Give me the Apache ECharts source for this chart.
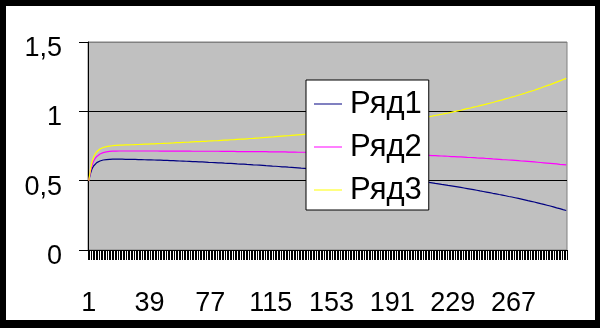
<!DOCTYPE html>
<html><head><meta charset="utf-8">
<script src="https://cdn.jsdelivr.net/npm/echarts@6/dist/echarts.min.js"></script>
<style>
html,body{margin:0;padding:0;background:#000;}
#wrap{position:relative;width:600px;height:328px;background:#000;overflow:hidden;}
#paper{position:absolute;left:6px;top:6px;width:589px;height:314px;background:#fff;}
#c{position:absolute;left:0;top:0;width:600px;height:328px;}
</style>
</head><body>
<div id="wrap"><div id="paper"></div><div id="c"></div></div>
<script>
const categories = [];
for (let i = 1; i <= 300; i++) categories.push(String(i));
const seriesNames = ['Ряд1', 'Ряд2', 'Ряд3'];
const seriesColors = ['#000080', '#FF00FF', '#FFFF00'];

const ryad1 = [
0.500,0.550,0.585,0.606,0.620,0.630,0.637,0.642,0.646,0.649,0.651,0.652,0.653,0.654,0.655,
0.655,0.656,0.656,0.656,0.655,
0.655,0.655,0.655,0.654,0.654,0.654,0.654,0.653,0.653,0.653,
0.653,0.652,0.652,0.652,0.651,0.651,0.651,0.650,0.650,0.650,
0.650,0.649,0.649,0.648,0.648,0.648,0.647,0.647,0.646,0.646,
0.645,0.645,0.644,0.644,0.643,0.643,0.642,0.642,0.641,0.641,
0.640,0.640,0.639,0.639,0.638,0.638,0.637,0.637,0.636,0.636,
0.635,0.635,0.634,0.634,0.633,0.632,0.632,0.631,0.631,0.630,
0.629,0.629,0.628,0.628,0.627,0.626,0.626,0.625,0.625,0.624,
0.623,0.623,0.622,0.621,0.621,0.620,0.619,0.619,0.618,0.617,
0.616,0.616,0.615,0.614,0.614,0.613,0.612,0.612,0.611,0.610,
0.609,0.608,0.608,0.607,0.606,0.605,0.604,0.604,0.603,0.602,
0.601,0.600,0.600,0.599,0.598,0.597,0.596,0.596,0.595,0.594,
0.593,0.592,0.591,0.590,0.590,0.589,0.588,0.587,0.586,0.585,
0.584,0.583,0.582,0.581,0.580,0.579,0.578,0.577,0.576,0.575,
0.574,0.573,0.572,0.571,0.569,0.568,0.567,0.566,0.565,0.564,
0.563,0.562,0.560,0.559,0.558,0.557,0.556,0.554,0.553,0.552,
0.551,0.549,0.548,0.547,0.545,0.544,0.543,0.542,0.540,0.539,
0.538,0.536,0.535,0.533,0.532,0.531,0.529,0.528,0.526,0.525,
0.523,0.522,0.520,0.519,0.517,0.516,0.514,0.513,0.511,0.510,
0.508,0.507,0.505,0.504,0.502,0.500,0.499,0.497,0.496,0.494,
0.492,0.491,0.489,0.487,0.485,0.484,0.482,0.480,0.479,0.477,
0.475,0.473,0.472,0.470,0.468,0.466,0.464,0.463,0.461,0.459,
0.457,0.455,0.453,0.451,0.449,0.447,0.445,0.443,0.441,0.439,
0.437,0.435,0.433,0.431,0.429,0.426,0.424,0.422,0.420,0.418,
0.416,0.414,0.411,0.409,0.407,0.405,0.403,0.400,0.398,0.396,
0.394,0.391,0.389,0.386,0.384,0.382,0.379,0.377,0.374,0.372,
0.369,0.367,0.364,0.362,0.359,0.356,0.354,0.351,0.349,0.346,
0.343,0.340,0.337,0.334,0.331,0.329,0.326,0.323,0.320,0.317,
0.314,0.311,0.307,0.304,0.301,0.298,0.295,0.291,0.288,0.285
];

const ryad2 = [
0.500,0.565,0.610,0.640,0.660,0.675,0.685,0.692,0.698,0.702,0.705,0.708,0.710,0.711,0.712,
0.713,0.713,0.713,0.714,0.714,
0.714,0.714,0.714,0.714,0.714,0.714,0.714,0.714,0.714,0.714,
0.714,0.714,0.714,0.714,0.714,0.714,0.714,0.714,0.714,0.714,
0.714,0.714,0.714,0.714,0.714,0.713,0.713,0.713,0.713,0.713,
0.713,0.713,0.713,0.713,0.713,0.713,0.713,0.713,0.713,0.713,
0.713,0.713,0.713,0.713,0.712,0.712,0.712,0.712,0.712,0.712,
0.712,0.712,0.712,0.712,0.712,0.712,0.712,0.712,0.712,0.712,
0.712,0.712,0.712,0.711,0.711,0.711,0.711,0.711,0.711,0.711,
0.711,0.711,0.711,0.710,0.710,0.710,0.710,0.710,0.710,0.710,
0.710,0.710,0.710,0.709,0.709,0.709,0.709,0.709,0.709,0.709,
0.709,0.709,0.708,0.708,0.708,0.708,0.708,0.708,0.707,0.707,
0.707,0.707,0.707,0.707,0.706,0.706,0.706,0.706,0.706,0.706,
0.705,0.705,0.705,0.705,0.705,0.705,0.704,0.704,0.704,0.704,
0.703,0.703,0.703,0.703,0.703,0.702,0.702,0.702,0.702,0.702,
0.702,0.701,0.701,0.701,0.701,0.701,0.700,0.700,0.700,0.700,
0.700,0.699,0.699,0.699,0.698,0.698,0.698,0.697,0.697,0.697,
0.697,0.696,0.696,0.696,0.695,0.695,0.695,0.694,0.694,0.694,
0.694,0.693,0.693,0.693,0.692,0.692,0.692,0.691,0.691,0.691,
0.691,0.690,0.690,0.690,0.689,0.689,0.689,0.688,0.688,0.688,
0.688,0.687,0.687,0.686,0.686,0.686,0.685,0.685,0.684,0.684,
0.684,0.683,0.683,0.682,0.682,0.681,0.681,0.680,0.680,0.679,
0.678,0.678,0.677,0.677,0.676,0.676,0.675,0.674,0.674,0.673,
0.672,0.672,0.671,0.671,0.670,0.670,0.669,0.668,0.668,0.667,
0.666,0.666,0.665,0.664,0.664,0.663,0.662,0.662,0.661,0.660,
0.659,0.659,0.658,0.657,0.656,0.656,0.655,0.654,0.653,0.652,
0.651,0.651,0.650,0.649,0.648,0.648,0.647,0.646,0.645,0.644,
0.643,0.642,0.642,0.641,0.640,0.639,0.638,0.637,0.636,0.635,
0.634,0.633,0.632,0.631,0.630,0.629,0.628,0.627,0.626,0.625,
0.624,0.623,0.622,0.621,0.620,0.618,0.617,0.616,0.615,0.614
];

const ryad3 = [
0.500,0.580,0.635,0.670,0.693,0.708,0.720,0.728,0.734,0.739,0.742,0.745,0.747,0.749,0.751,
0.752,0.753,0.754,0.755,0.756,
0.756,0.757,0.757,0.758,0.758,0.758,0.759,0.759,0.760,0.760,
0.760,0.761,0.761,0.762,0.762,0.763,0.763,0.764,0.764,0.765,
0.765,0.766,0.766,0.767,0.767,0.768,0.768,0.769,0.769,0.770,
0.771,0.771,0.772,0.772,0.773,0.774,0.774,0.775,0.775,0.776,
0.777,0.777,0.778,0.778,0.779,0.780,0.780,0.781,0.781,0.782,
0.783,0.783,0.784,0.784,0.785,0.786,0.786,0.787,0.787,0.788,
0.789,0.789,0.790,0.791,0.791,0.792,0.793,0.793,0.794,0.795,
0.796,0.796,0.797,0.798,0.798,0.799,0.800,0.800,0.801,0.802,
0.803,0.804,0.804,0.805,0.806,0.807,0.808,0.808,0.809,0.810,
0.811,0.812,0.813,0.814,0.814,0.815,0.816,0.817,0.818,0.819,
0.820,0.821,0.822,0.823,0.823,0.824,0.825,0.826,0.827,0.828,
0.829,0.830,0.831,0.832,0.833,0.834,0.835,0.836,0.837,0.838,
0.839,0.840,0.842,0.843,0.844,0.845,0.846,0.848,0.849,0.850,
0.851,0.853,0.854,0.855,0.857,0.858,0.859,0.861,0.862,0.863,
0.865,0.866,0.868,0.869,0.871,0.872,0.874,0.875,0.877,0.878,
0.880,0.881,0.883,0.884,0.886,0.888,0.889,0.891,0.892,0.894,
0.896,0.898,0.899,0.901,0.903,0.905,0.907,0.908,0.910,0.912,
0.914,0.916,0.918,0.920,0.922,0.923,0.925,0.927,0.929,0.931,
0.933,0.935,0.937,0.939,0.941,0.944,0.946,0.948,0.950,0.952,
0.954,0.956,0.959,0.961,0.963,0.965,0.967,0.970,0.972,0.974,
0.976,0.979,0.981,0.984,0.986,0.988,0.991,0.993,0.996,0.998,
1.001,1.003,1.006,1.008,1.011,1.014,1.016,1.019,1.021,1.024,
1.027,1.030,1.032,1.035,1.038,1.041,1.044,1.046,1.049,1.052,
1.055,1.058,1.061,1.064,1.068,1.071,1.074,1.077,1.080,1.083,
1.086,1.090,1.093,1.096,1.100,1.103,1.106,1.109,1.113,1.116,
1.120,1.123,1.127,1.130,1.134,1.138,1.141,1.145,1.148,1.152,
1.156,1.160,1.164,1.168,1.173,1.177,1.181,1.185,1.189,1.193,
1.198,1.202,1.207,1.211,1.216,1.220,1.225,1.229,1.234,1.238
];

const yMin = 0, yMax = 1.5, yStep = 0.5;
const seriesData = [ryad1, ryad2, ryad3];
const FONT = 'Liberation Sans, Arial, sans-serif';

const chart = echarts.init(document.getElementById('c'), null, {renderer: 'canvas'});
chart.setOption({
  animation: false,
  backgroundColor: 'transparent',
  grid: {
    left: 88, top: 42, width: 479, height: 208,
    show: true, backgroundColor: '#c0c0c0', borderColor: '#808080', borderWidth: 1,
    containLabel: false
  },
  xAxis: {
    type: 'category',
    data: categories,
    boundaryGap: true,
    axisLine: {show: true, lineStyle: {color: '#000', width: 1}},
    axisTick: {show: true, interval: 0, length: 10, inside: false, lineStyle: {color: '#000', width: 1}},
    axisLabel: {interval: 37, margin: 40, fontSize: 27, color: '#000', fontFamily: FONT},
    splitLine: {show: false}
  },
  yAxis: {
    type: 'value',
    min: yMin, max: yMax, interval: yStep,
    axisLine: {show: true, lineStyle: {color: '#000', width: 1}},
    axisTick: {show: true, length: 9, inside: false, lineStyle: {color: '#000', width: 1}},
    axisLabel: {
      margin: 26, fontSize: 27, color: '#000', fontFamily: FONT,
      verticalAlign: 'top', lineHeight: 13,
      formatter: v => String(v).replace('.', ',')
    },
    splitLine: {show: true, lineStyle: {color: ['#000', '#000', '#000', '#808080'], width: 1}}
  },
  legend: {
    data: seriesNames,
    orient: 'vertical',
    left: 306, top: 80,
    backgroundColor: '#fff', borderColor: '#000', borderWidth: 1,
    padding: [4, 7, 0, 8],
    itemGap: 3,
    itemWidth: 28, itemHeight: 1,
    icon: 'rect',
    textStyle: {fontSize: 31, fontFamily: FONT, color: '#000', lineHeight: 40, padding: [0, 0, 0, 3]}
  },
  series: seriesNames.map((name, i) => ({
    name: name,
    type: 'line',
    data: seriesData[i],
    showSymbol: false,
    symbol: 'none',
    lineStyle: {color: seriesColors[i], width: 1.2},
    itemStyle: {color: seriesColors[i]},
    emphasis: {disabled: true}
  }))
});
</script>
</body></html>
